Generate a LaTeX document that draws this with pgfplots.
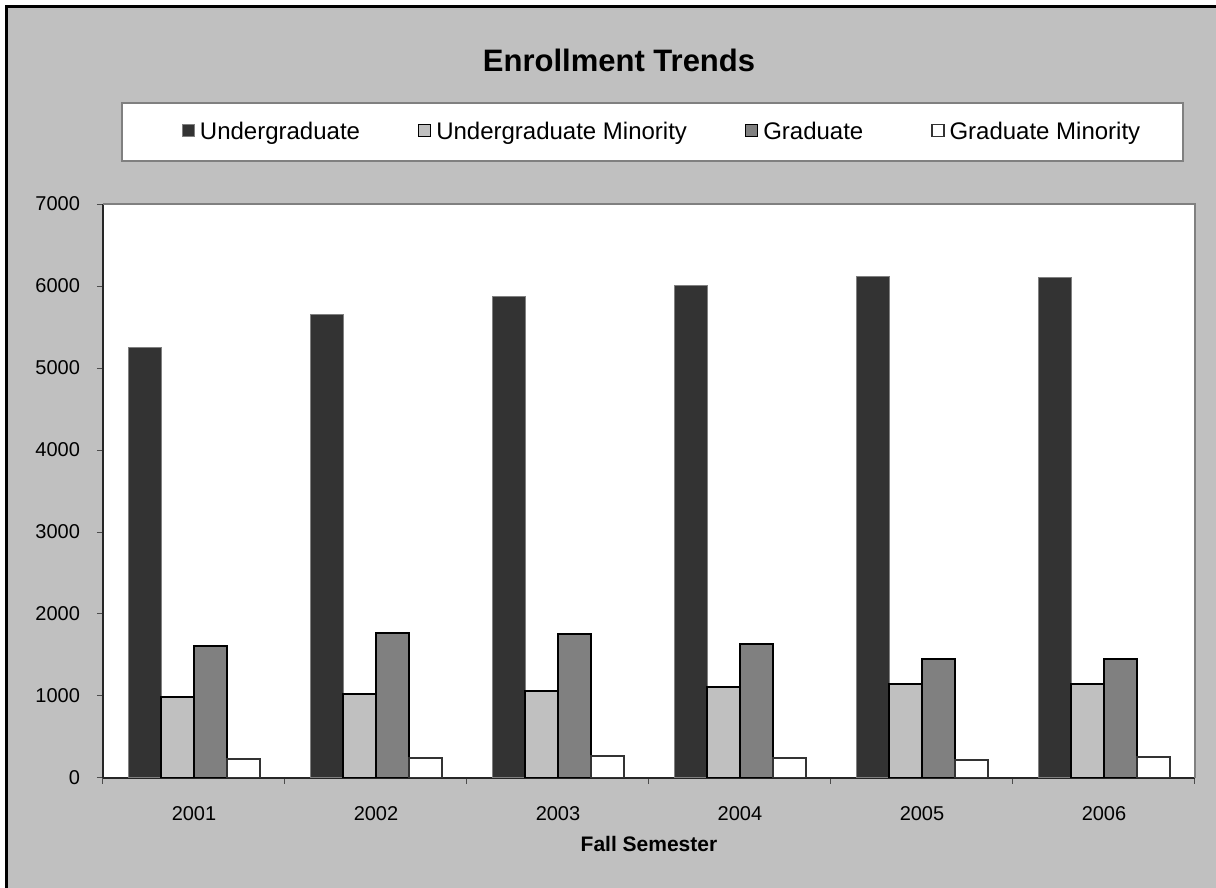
\documentclass[border=0pt]{standalone}
\usepackage{fontspec}
\setmainfont{Liberation Sans}
\usepackage{pgfplots}
\pgfplotsset{compat=1.18}

\definecolor{bgGray}{HTML}{C0C0C0}
\definecolor{ugFill}{HTML}{333333}
\definecolor{ugmFill}{HTML}{C0C0C0}
\definecolor{grFill}{HTML}{808080}
\definecolor{frameGray}{HTML}{808080}

% Fall enrollment by category
\pgfplotstableread{
x  ug    ugm   gr    grm
0  5245  990   1610  230
1  5650  1025  1765  245
2  5875  1065  1755  270
3  6010  1110  1630  245
4  6120  1145  1455  220
5  6100  1145  1450  250
}\enrollment

\begin{document}
\begin{tikzpicture}
% page: 1px = 0.5pt, 1216 x 888
\path[use as bounding box] (0,0) rectangle (608pt,444pt);
\fill[white] (0,0) rectangle (608pt,444pt);
\fill[bgGray] (2.5pt,0) rectangle (608pt,441.5pt);
\draw[black, line width=1.5pt] (3.25pt,0) -- (3.25pt,440.75pt) -- (608pt,440.75pt);

% title
\node[anchor=base, font=\fontsize{15.5}{18}\selectfont\bfseries] at (309.5pt,408pt) {Enrollment Trends};

% legend frame
\draw[frameGray, fill=white, line width=0.75pt] (61pt,363.5pt) rectangle (591.5pt,392.5pt);

\begin{axis}[
  at={(51.5pt,55pt)}, anchor=south west,
  scale only axis,
  width=546pt, height=287pt,
  axis background/.style={fill=white},
  axis lines=left,
  axis line style={-, black!85, line width=0.6pt},
  xmin=-0.5, xmax=5.5,
  ymin=0, ymax=7000,
  ytick={0,1000,...,7000},
  xtick={0,1,2,3,4,5},
  xticklabels={2001,2002,2003,2004,2005,2006},
  minor xtick={-0.5,0.5,1.5,2.5,3.5,4.5,5.5},
  major x tick style={draw=none},
  tick align=outside,
  major tick length=3pt,
  minor tick length=3pt,
  tick style={black!70, line width=0.5pt},
  /pgf/number format/assume math mode=true,
  /pgf/number format/1000 sep={},
  ticklabel style={font=\fontsize{10}{12}\selectfont},
  yticklabel style={xshift=-5pt},
  xticklabel style={yshift=-7.5pt},
  xlabel={\bfseries Fall Semester},
  xlabel style={font=\fontsize{10.5}{12}\selectfont, yshift=-1pt},
  ybar=0pt,
  bar width=0.181,
  legend columns=4,
  legend style={
    at={(0.5110,1.1254)}, anchor=center,
    draw=none, fill=none,
    font=\fontsize{12}{14}\selectfont,
    nodes={inner sep=0pt, anchor=base},
    /tikz/every odd column/.append style={column sep=2.5pt},
    /tikz/every even column/.append style={column sep=29pt},
  },
  legend image code/.code={\draw[#1, line width=0.6pt] (0pt,1.5pt) rectangle (6pt,7.5pt);},
  after end axis/.code={
    \draw[frameGray, line width=1pt] (rel axis cs:0,1) -- (rel axis cs:1,1) -- (rel axis cs:1,0);
  },
]
\addplot[fill=ugFill, draw=frameGray, line width=0.5pt] table[x=x, y=ug] {\enrollment};
\addplot[fill=ugmFill, draw=black, line width=1pt] table[x=x, y=ugm] {\enrollment};
\addplot[fill=grFill, draw=black, line width=1pt] table[x=x, y=gr] {\enrollment};
\addplot[fill=white, draw=ugFill, line width=1pt] table[x=x, y=grm] {\enrollment};
\legend{Undergraduate, Undergraduate Minority, Graduate\hspace*{5pt}, Graduate Minority}
\end{axis}
\end{tikzpicture}
\end{document}
